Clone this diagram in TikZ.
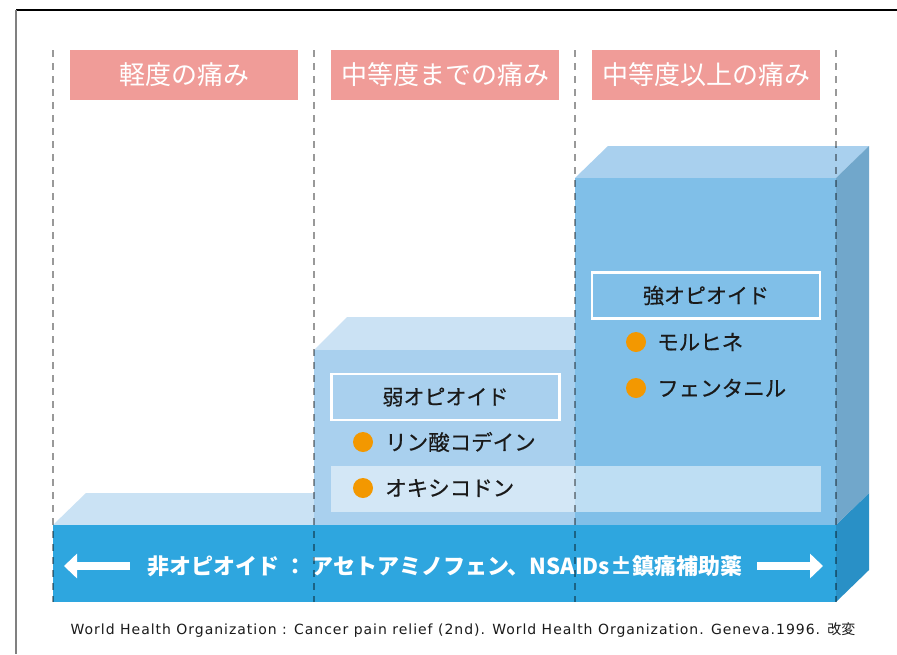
\documentclass[tikz,border=0pt]{standalone}
\usepackage{fontspec}
\setmainfont{Noto Sans CJK JP}
\newfontfamily\cjkmed{Noto Sans CJK JP}[FakeBold=0.5]
\newfontfamily\footfont{DejaVu Sans}[LetterSpace=7]
\usetikzlibrary{arrows.meta}
\definecolor{hdrpink}{HTML}{F09C98}
\definecolor{basefront}{HTML}{2EA6DF}
\definecolor{baseside}{HTML}{2990C6}
\definecolor{basetop}{HTML}{CAE2F4}
\definecolor{midfront}{HTML}{A9D0EE}
\definecolor{midtop}{HTML}{CBE2F4}
\definecolor{tallfront}{HTML}{80BFE8}
\definecolor{talltop}{HTML}{A9D0EE}
\definecolor{tallside}{HTML}{71A7CB}
\definecolor{dotorange}{HTML}{F39800}
\definecolor{txtdark}{HTML}{1A1A1A}
\tikzset{
  hdr/.style={fill=hdrpink, text=white, minimum width=228pt, minimum height=50pt, inner sep=0pt, font=\fontsize{26}{30}\selectfont},
  grpbox/.style={draw=white, line width=2.5pt, minimum width=228pt, minimum height=46pt, inner sep=0pt, text=txtdark, font=\cjkmed\fontsize{21}{25}\selectfont},
  item/.style={anchor=west, inner sep=0pt, text=txtdark, font=\cjkmed\fontsize{21.5}{25}\selectfont},
  dot/.style={circle, fill=dotorange, minimum size=20pt, inner sep=0pt},
  colline/.style={black, opacity=0.4, line width=2.5pt, dash pattern=on 7pt off 6pt},
  bigarrow/.style={white, line width=8pt, -{Triangle[length=13pt,width=24pt]}},
}
\begin{document}
\begin{tikzpicture}[x=1pt,y=-1pt]
\useasboundingbox (0,0) rectangle (897,654);
\fill[white] (0,0) rectangle (897,654);
% frame
\draw[black, line width=1.5pt] (16,10) -- (897,10);
\draw[gray, line width=2pt] (16,10) -- (16,654);
% headers
\node[hdr] (h1) at (184,75) {軽度の痛み};
\node[hdr] (h2) at (445,75) {中等度までの痛み};
\node[hdr] (h3) at (706,75) {中等度以上の痛み};
% base block
\fill[basetop] (53,525) -- (86,493) -- (869,493) -- (836,525) -- cycle;
\fill[baseside] (836,525) -- (869,493) -- (869,570) -- (836,602) -- cycle;
\fill[basefront] (53,525) rectangle (836,602);
% middle block
\fill[midtop] (314,350) -- (347,317) -- (869,317) -- (836,350) -- cycle;
\fill[midfront] (314,350) rectangle (836,525);
% tall block
\fill[talltop] (575,178) -- (608,146) -- (869,146) -- (836,178) -- cycle;
\fill[tallside] (836,178) -- (869,146) -- (869,493) -- (836,525) -- cycle;
\fill[tallfront] (575,178) rectangle (836,525);
% light band
\fill[white, opacity=0.49] (331,466) rectangle (821,512);
% weak opioid
\node[grpbox] (weak) at (445.5,397) {弱オピオイド};
\node[dot] (d1) at (363,442) {};
\node[item] (codeine) at (385,442) {リン酸コデイン};
\node[dot] (d2) at (363,488) {};
\node[item] (oxy) at (385,488) {オキシコドン};
% strong opioid
\node[grpbox] (strong) at (706,295.5) {強オピオイド};
\node[dot] (d3) at (636,342) {};
\node[item] (morph) at (657,342) {モルヒネ};
\node[dot] (d4) at (636,388) {};
\node[item] (fent) at (657,388) {フェンタニル};
% base text and arrows
\node[text=white, inner sep=0pt, font=\fontsize{22}{26}\selectfont\bfseries] (nonop) at (445,566) {非オピオイド ： アセトアミノフェン、NSAIDs±鎮痛補助薬};
\coordinate (la0) at (130,566);
\coordinate (la1) at (64,566);
\coordinate (ra0) at (757,566);
\coordinate (ra1) at (823,566);
\draw[bigarrow] (la0) -- (la1);
\draw[bigarrow] (ra0) -- (ra1);
% column dashed lines
\foreach \x in {53,314,575,836} {
  \draw[colline] (\x,50) -- (\x,602);
}
% footer
\node[inner sep=0pt, text=txtdark, font=\footfont\fontsize{14}{16}\selectfont] (foot) at (463,630) {World Health Organization : Cancer pain relief (2nd). World Health Organization. Geneva.1996. {\normalfont\fontsize{14}{16}\selectfont 改変}};
\end{tikzpicture}
\end{document}
